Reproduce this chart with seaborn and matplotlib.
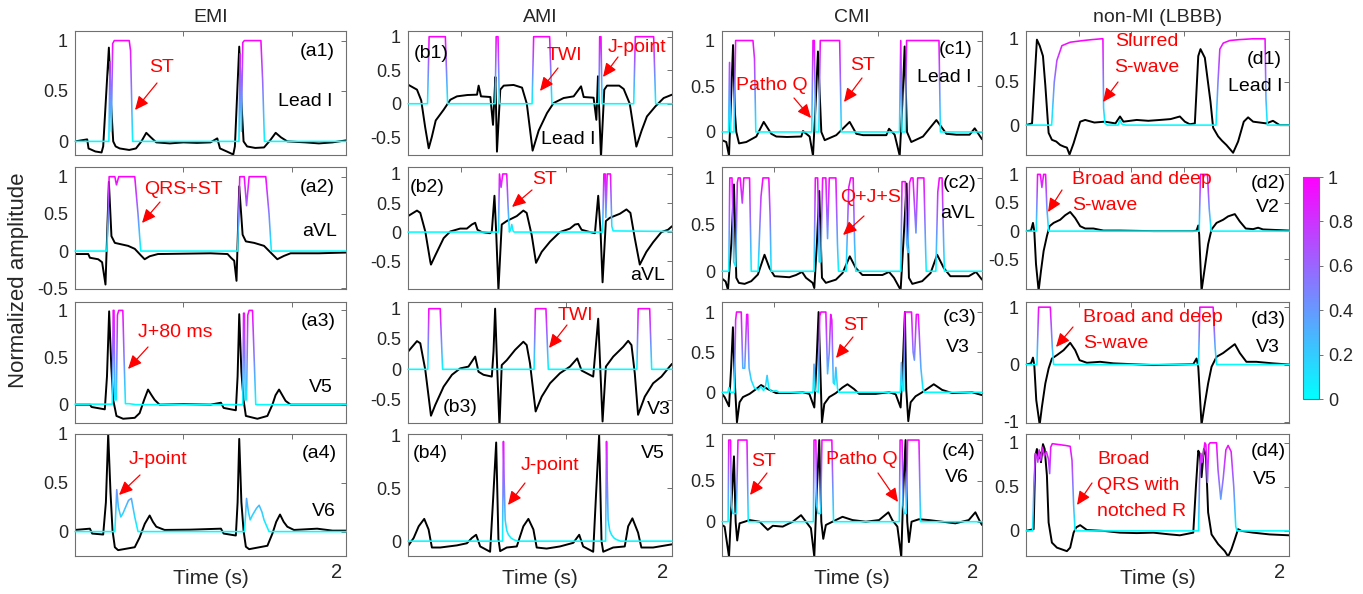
import numpy as np
import matplotlib
matplotlib.use("Agg")
import matplotlib.pyplot as plt
from matplotlib.patches import Rectangle, FancyArrowPatch
from matplotlib.cm import ScalarMappable
from matplotlib.colors import Normalize
import seaborn as sns

# ---------------- ECG traces (normalized amplitude) and attention maps ----------------
# time in seconds (0-2 s window)

# EMI
a1_ecg_t = [0.00, 0.09, 0.10, 0.15, 0.196, 0.208, 0.25, 0.265, 0.282, 0.30, 0.33, 0.40, 0.45, 0.49, 0.526, 0.56, 0.60, 0.70, 0.80, 0.90, 1.00, 1.05, 1.07, 1.12, 1.168, 1.18, 1.212, 1.228, 1.244, 1.27, 1.33, 1.395, 1.44, 1.481, 1.52, 1.567, 1.70, 1.80, 1.90, 2.00]
a1_ecg_v = [0.00, 0.02, -0.07, -0.10, -0.11, -0.05, 0.93, 0.40, 0.00, -0.05, -0.07, -0.085, -0.07, 0.00, 0.085, 0.04, -0.01, -0.02, -0.01, -0.015, -0.01, 0.03, -0.07, -0.10, -0.13, -0.05, 0.94, 0.40, 0.00, -0.05, -0.065, -0.06, 0.01, 0.085, 0.04, 0.00, -0.01, -0.02, -0.01, 0.01]
a1_att_t = [0.00, 0.235, 0.25, 0.258, 0.268, 0.278, 0.29, 0.40, 0.41, 0.425, 1.20, 1.21, 1.218, 1.228, 1.238, 1.25, 1.372, 1.385, 1.398, 2.00]
a1_att_v = [0, 0, 0, 0.79, 0.1, 0.97, 1.0, 1.0, 0.9, 0, 0, 0, 0.87, 0.1, 0.98, 1.0, 1.0, 0.6, 0, 0]

a2_ecg_t = [0.00, 0.098, 0.110, 0.171, 0.20, 0.225, 0.25, 0.269, 0.294, 0.343, 0.392, 0.441, 0.490, 0.514, 0.551, 0.612, 0.808, 1.00, 1.126, 1.151, 1.175, 1.192, 1.212, 1.237, 1.261, 1.322, 1.395, 1.444, 1.493, 1.542, 1.591, 1.80, 2.00]
a2_ecg_v = [-0.04, -0.04, -0.09, -0.11, -0.15, -0.45, 0.93, 0.20, 0.11, 0.09, 0.07, 0.03, -0.065, -0.11, -0.07, -0.04, -0.035, -0.03, -0.04, -0.09, -0.13, -0.40, 0.87, 0.22, 0.13, 0.11, 0.07, -0.02, -0.11, -0.065, -0.03, -0.03, -0.02]
a2_att_t = [0, 0.235, 0.245, 0.252, 0.294, 0.306, 0.323, 0.441, 0.465, 0.485, 1.200, 1.208, 1.216, 1.249, 1.266, 1.285, 1.408, 1.432, 1.449, 2.0]
a2_att_v = [0, 0, 0.5, 1, 1, 0.89, 1, 1, 0.5, 0, 0, 0.5, 1, 1, 0.61, 1, 1, 0.5, 0, 0]

a3_ecg_t = [0.00, 0.110, 0.122, 0.220, 0.236, 0.252, 0.268, 0.282, 0.306, 0.355, 0.441, 0.477, 0.510, 0.539, 0.565, 0.588, 0.624, 0.80, 1.00, 1.077, 1.097, 1.187, 1.200, 1.212, 1.228, 1.244, 1.261, 1.346, 1.420, 1.457, 1.480, 1.506, 1.530, 1.554, 1.591, 1.80, 2.00]
a3_ecg_v = [0.00, 0.00, -0.025, -0.05, 0.3, 0.99, 0.4, 0.05, -0.12, -0.15, -0.14, -0.09, 0.05, 0.16, 0.10, 0.05, 0.00, 0.005, 0.00, 0.02, -0.035, -0.06, 0.30, 0.96, 0.35, 0.05, -0.12, -0.15, -0.12, 0.00, 0.10, 0.16, 0.10, 0.04, 0.00, 0.00, 0.00]
a3_att_t = [0, 0.275, 0.282, 0.288, 0.294, 0.305, 0.313, 0.323, 0.353, 0.362, 0.372, 0.40, 0.45, 0.50, 1.238, 1.244, 1.250, 1.256, 1.266, 1.275, 1.285, 1.310, 1.322, 1.334, 2.0]
a3_att_v = [0.005, 0.005, 1.0, 1.0, 0.05, 0.05, 0.95, 1.0, 1.0, 0.5, 0.01, 0.01, 0.0, 0.0, 0.0, 0.97, 0.97, 0.05, 0.05, 0.95, 1.0, 1.0, 0.5, 0.0, 0.0]

a4_ecg_t = [0.00, 0.110, 0.127, 0.208, 0.228, 0.245, 0.262, 0.277, 0.294, 0.318, 0.441, 0.477, 0.515, 0.551, 0.575, 0.600, 0.661, 0.85, 1.077, 1.097, 1.187, 1.200, 1.212, 1.228, 1.244, 1.261, 1.285, 1.420, 1.457, 1.485, 1.513, 1.540, 1.567, 1.616, 1.787, 1.90, 2.00]
a4_ecg_v = [0.017, 0.03, -0.02, -0.03, 0.3, 1.0, 0.4, 0.01, -0.16, -0.19, -0.16, -0.06, 0.08, 0.165, 0.10, 0.05, 0.017, 0.02, 0.03, -0.02, -0.04, 0.3, 0.95, 0.3, 0.01, -0.155, -0.18, -0.145, -0.02, 0.10, 0.175, 0.10, 0.05, 0.017, 0.03, 0.01, 0.01]
a4_att_t = [0, 0.294, 0.301, 0.308, 0.32, 0.338, 0.355, 0.367, 0.395, 0.416, 0.441, 0.465, 1.25, 1.258, 1.266, 1.28, 1.293, 1.310, 1.340, 1.359, 1.380, 1.395, 1.432, 2.0]
a4_att_v = [0, 0, 0.2, 0.43, 0.25, 0.15, 0.19, 0.23, 0.32, 0.34, 0.15, 0.0, 0, 0.15, 0.34, 0.2, 0.12, 0.17, 0.24, 0.27, 0.2, 0.12, 0.0, 0]

# AMI
b1_ecg_t = [0.00, 0.068, 0.10, 0.13, 0.157, 0.18, 0.21, 0.27, 0.321, 0.371, 0.45, 0.523, 0.535, 0.553, 0.624, 0.644, 0.652, 0.662, 0.674, 0.699, 0.725, 0.80, 0.864, 0.90, 0.944, 0.99, 1.053, 1.103, 1.179, 1.255, 1.311, 1.331, 1.406, 1.427, 1.439, 1.462, 1.487, 1.508, 1.60, 1.634, 1.68, 1.730, 1.77, 1.810, 1.874, 1.937, 2.00]
b1_ecg_v = [0.285, 0.21, 0.05, -0.35, -0.665, -0.5, -0.25, -0.09, 0.06, 0.11, 0.13, 0.135, 0.27, 0.11, 0.10, -0.315, 0.0, 0.40, -0.715, 0.21, 0.27, 0.28, 0.24, 0.0, -0.70, -0.4, -0.14, 0.01, 0.085, 0.11, 0.26, 0.10, 0.09, -0.24, 0.41, -0.80, 0.21, 0.27, 0.27, 0.22, 0.0, -0.64, -0.4, -0.19, -0.04, 0.085, 0.135]
b1_att_t = [0, 0.148, 0.16, 0.283, 0.30, 0.66, 0.668, 0.682, 0.692, 0.94, 0.952, 1.073, 1.09, 1.446, 1.452, 1.462, 1.470, 1.71, 1.722, 1.861, 1.876, 2.0]
b1_att_v = [0, 0, 1, 1, 0, 0, 1, 1, 0, 0, 1, 1, 0, 0, 1, 1, 0, 0, 1, 1, 0, 0]

b2_ecg_t = [0.00, 0.068, 0.093, 0.131, 0.169, 0.174, 0.207, 0.270, 0.320, 0.395, 0.446, 0.484, 0.509, 0.526, 0.559, 0.622, 0.635, 0.655, 0.668, 0.685, 0.710, 0.748, 0.824, 0.874, 0.899, 0.937, 0.970, 1.013, 1.076, 1.151, 1.227, 1.265, 1.290, 1.315, 1.378, 1.416, 1.441, 1.459, 1.474, 1.499, 1.529, 1.605, 1.655, 1.685, 1.718, 1.756, 1.806, 1.857, 1.920, 1.970, 2.00]
b2_ecg_v = [0.275, 0.37, 0.33, 0.01, -0.51, -0.56, -0.40, -0.105, 0.01, 0.06, 0.06, 0.13, 0.16, 0.04, 0.0, -0.02, 0.01, 0.625, 0.0, -1.0, 0.13, 0.19, 0.275, 0.37, 0.33, -0.05, -0.53, -0.34, -0.165, 0.0, 0.06, 0.13, 0.14, 0.04, 0.0, -0.02, 0.625, 0.0, -0.865, 0.19, 0.245, 0.315, 0.39, 0.33, -0.105, -0.56, -0.34, -0.175, 0.0, 0.04, 0.10]
b2_att_t = [0, 0.685, 0.693, 0.705, 0.718, 0.748, 0.758, 0.768, 0.778, 0.786, 0.796, 0.804, 1.474, 1.484, 1.494, 1.499, 1.509, 1.534, 1.544, 1.554, 2.0]
b2_att_v = [0, 0, 1, 0.77, 1, 1, 0.45, 0.0, 0.05, 0.13, 0.02, 0, 0, 1, 1, 0.25, 1, 1, 0.1, 0.02, 0.01]

b3_ecg_t = [0.000, 0.068, 0.093, 0.131, 0.174, 0.207, 0.270, 0.333, 0.395, 0.458, 0.509, 0.534, 0.572, 0.635, 0.648, 0.660, 0.676, 0.693, 0.710, 0.748, 0.811, 0.874, 0.899, 0.924, 0.967, 1.013, 1.076, 1.151, 1.227, 1.282, 1.315, 1.403, 1.441, 1.457, 1.474, 1.499, 1.555, 1.630, 1.668, 1.693, 1.718, 1.743, 1.794, 1.857, 1.920, 1.982, 2.000]
b3_ecg_v = [0.29, 0.465, 0.43, -0.01, -0.765, -0.585, -0.285, -0.09, 0.015, 0.045, 0.21, -0.04, -0.09, -0.12, 0.3, 1.0, 0.0, -0.95, 0.07, 0.15, 0.32, 0.455, 0.40, 0.10, -0.695, -0.45, -0.23, -0.065, 0.045, 0.18, -0.02, -0.12, 0.835, 0.0, -0.86, 0.045, 0.21, 0.37, 0.47, 0.40, -0.065, -0.75, -0.45, -0.23, -0.12, 0.045, 0.09]
b3_att_t = [0, 0.150, 0.158, 0.244, 0.262, 0.955, 0.965, 1.045, 1.063, 1.734, 1.744, 1.831, 1.846, 2.0]
b3_att_v = [0, 0, 1, 1, 0, 0, 1, 1, 0, 0, 1, 1, 0, 0]

b4_ecg_t = [0.000, 0.043, 0.081, 0.123, 0.156, 0.181, 0.244, 0.370, 0.446, 0.484, 0.516, 0.547, 0.622, 0.645, 0.668, 0.685, 0.698, 0.748, 0.824, 0.874, 0.912, 0.950, 0.975, 1.050, 1.151, 1.252, 1.297, 1.327, 1.403, 1.425, 1.448, 1.466, 1.479, 1.554, 1.642, 1.668, 1.700, 1.743, 1.768, 1.857, 2.000]
b4_ecg_v = [-0.047, 0.03, 0.14, 0.21, 0.11, -0.06, -0.06, -0.04, -0.02, 0.03, 0.06, -0.05, -0.10, 0.4, 0.93, 0.02, -0.094, -0.06, -0.05, 0.14, 0.21, 0.11, -0.06, -0.07, -0.05, -0.016, 0.06, -0.05, -0.10, 0.45, 1.0, 0.0, -0.10, -0.06, -0.05, 0.14, 0.215, 0.08, -0.06, -0.06, -0.03]
b4_att_t = [0, 0.716, 0.723, 0.728, 0.736, 0.748, 0.761, 0.780, 0.799, 0.830, 1.497, 1.504, 1.509, 1.516, 1.528, 1.542, 1.560, 1.579, 1.610, 2.0]
b4_att_v = [0, 0, 0.94, 0.6, 0.2, 0.1, 0.06, 0.03, 0.015, 0, 0, 0.94, 0.6, 0.2, 0.1, 0.06, 0.03, 0.015, 0, 0]

# CMI
c1_ecg_t = [0.000, 0.033, 0.054, 0.068, 0.085, 0.100, 0.110, 0.131, 0.187, 0.264, 0.321, 0.379, 0.418, 0.50, 0.610, 0.623, 0.674, 0.700, 0.720, 0.738, 0.764, 0.790, 0.879, 0.982, 1.033, 1.085, 1.264, 1.285, 1.328, 1.367, 1.387, 1.405, 1.423, 1.456, 1.546, 1.649, 1.726, 1.803, 1.905, 1.944, 2.000]
c1_ecg_v = [-0.09, -0.11, -0.26, 0.3, 0.95, 0.2, 0.0, -0.125, -0.11, -0.05, 0.11, -0.02, -0.05, -0.055, -0.05, 0.01, -0.05, -0.26, 0.3, 0.88, 0.0, -0.09, -0.035, 0.11, -0.02, -0.035, -0.035, 0.035, -0.03, -0.26, 0.3, 0.935, 0.0, -0.11, -0.05, 0.13, -0.02, -0.03, -0.03, 0.04, -0.08]
c1_att_t = [0, 0.050, 0.058, 0.066, 0.092, 0.105, 0.238, 0.250, 0.260, 0.690, 0.700, 0.710, 0.720, 0.745, 0.756, 0.905, 0.918, 1.365, 1.375, 1.385, 1.410, 1.420, 1.669, 1.680, 2.0]
c1_att_v = [0, 0, 0.76, 0, 0, 1, 1, 0.8, 0, 0, 1, 1, 0, 0, 1, 1, 0, 0, 1, 0, 0, 1, 1, 0, 0]

c2_ecg_t = [0.000, 0.028, 0.046, 0.072, 0.092, 0.110, 0.130, 0.174, 0.225, 0.276, 0.327, 0.365, 0.404, 0.518, 0.570, 0.616, 0.646, 0.697, 0.710, 0.730, 0.748, 0.769, 0.799, 0.876, 0.927, 0.983, 1.029, 1.080, 1.234, 1.285, 1.323, 1.374, 1.395, 1.420, 1.438, 1.464, 1.540, 1.604, 1.655, 1.706, 1.757, 1.898, 1.954, 2.000]
c2_ecg_v = [-0.078, -0.11, -0.2, 0.3, 0.93, -0.07, -0.125, -0.135, -0.106, -0.035, 0.177, 0.035, -0.053, -0.064, -0.04, -0.007, -0.07, -0.124, -0.18, 0.3, 0.86, -0.07, -0.124, -0.09, -0.02, 0.16, 0.035, -0.04, -0.04, -0.007, -0.07, -0.2, 0.3, 0.94, -0.07, -0.135, -0.106, -0.02, 0.177, 0.035, -0.053, -0.053, -0.007, -0.09]
c2_att_t = [0, 0.052, 0.060, 0.077, 0.090, 0.105, 0.118, 0.125, 0.140, 0.156, 0.168, 0.212, 0.225, 0.278, 0.300, 0.315, 0.360, 0.370, 0.378, 0.708, 0.718, 0.736, 0.748, 0.760, 0.774, 0.799, 0.812, 0.825, 0.876, 0.888, 0.896, 0.955, 0.975, 0.990, 1.009, 1.020, 1.029, 1.375, 1.385, 1.410, 1.420, 1.430, 1.443, 1.455, 1.469, 1.492, 1.505, 1.553, 1.565, 1.571, 1.645, 1.660, 1.672, 1.693, 1.705, 1.711, 2.0]
c2_att_v = [0, 0, 1, 1, 0.1, 0.05, 0.95, 1, 1, 0.73, 1, 1, 0, 0, 0.8, 1, 1, 0.6, 0, 0, 1, 1, 0.1, 0.1, 1, 1, 0.35, 1, 1, 0.3, 0, 0, 0.9, 1, 1, 0.3, 0, 0, 0.96, 0.96, 0.3, 0.2, 0.95, 1, 1, 0.41, 1, 1, 0.3, 0, 0, 0.85, 1, 1, 0.3, 0, 0]

c3_ecg_t = [0.000, 0.020, 0.054, 0.070, 0.084, 0.100, 0.115, 0.135, 0.161, 0.212, 0.263, 0.301, 0.352, 0.416, 0.518, 0.621, 0.672, 0.710, 0.728, 0.743, 0.761, 0.769, 0.787, 0.825, 0.876, 0.927, 0.965, 1.016, 1.055, 1.182, 1.285, 1.336, 1.374, 1.392, 1.407, 1.417, 1.433, 1.451, 1.489, 1.540, 1.629, 1.693, 1.770, 1.923, 2.000]
c3_ecg_v = [-0.02, -0.06, -0.175, 0.3, 0.81, 0.08, -0.375, -0.125, -0.06, -0.02, 0.04, 0.09, 0.04, -0.01, -0.01, 0.0, -0.02, -0.19, 0.4, 1.0, 0.04, -0.375, -0.145, -0.06, -0.01, 0.06, 0.10, 0.04, -0.02, -0.02, 0.0, -0.025, -0.19, 0.4, 1.0, 0.04, -0.36, -0.125, -0.05, 0.0, 0.10, 0.03, -0.01, 0.0, -0.035]
c3_att_t = [0, 0.045, 0.054, 0.064, 0.095, 0.105, 0.112, 0.148, 0.160, 0.175, 0.190, 0.198, 0.208, 0.225, 0.250, 0.280, 0.300, 0.320, 0.335, 0.347, 0.360, 0.380, 0.416, 0.440, 0.700, 0.708, 0.716, 0.740, 0.752, 0.761, 0.799, 0.812, 0.825, 0.836, 0.845, 0.856, 0.866, 0.876, 0.888, 0.900, 1.372, 1.380, 1.388, 1.398, 1.407, 1.458, 1.470, 1.480, 1.495, 1.510, 1.530, 1.545, 1.555, 2.0]
c3_att_v = [0, 0, 0.06, 0, 0, 0.9, 1, 1, 0.3, 0.3, 0.97, 0.97, 0.3, 0.15, 0.05, 0.03, 0.07, 0.02, 0.08, 0.21, 0.05, 0.01, 0.02, 0, 0, 0.35, 0.02, 0, 0.95, 1, 1, 0.23, 0.5, 0.97, 0.9, 0.12, 0.1, 0.31, 0.05, 0, 0, 0.37, 0.02, 0.02, 1, 1, 0.5, 0.4, 0.97, 0.97, 0.3, 0.05, 0, 0]

c4_ecg_t = [0.000, 0.020, 0.054, 0.072, 0.092, 0.105, 0.117, 0.135, 0.174, 0.212, 0.289, 0.352, 0.391, 0.467, 0.544, 0.608, 0.646, 0.684, 0.710, 0.730, 0.748, 0.764, 0.779, 0.799, 0.850, 0.927, 1.004, 1.106, 1.208, 1.280, 1.310, 1.349, 1.379, 1.395, 1.412, 1.425, 1.438, 1.458, 1.515, 1.591, 1.693, 1.795, 1.898, 1.949, 1.979, 2.000]
c4_ecg_v = [-0.04, -0.06, -0.43, 0.2, 0.80, 0.0, -0.23, -0.02, 0.0, 0.02, 0.0, -0.10, -0.05, -0.06, 0.0, 0.08, 0.0, -0.08, -0.43, 0.4, 1.0, 0.0, -0.21, -0.04, 0.0, 0.06, 0.02, 0.0, 0.02, 0.115, 0.02, -0.06, -0.43, 0.4, 1.0, 0.0, -0.25, 0.0, 0.03, 0.02, 0.0, -0.02, 0.02, 0.115, 0.02, -0.04]
c4_att_t = [0, 0.047, 0.052, 0.066, 0.072, 0.084, 0.110, 0.123, 0.192, 0.202, 0.703, 0.708, 0.722, 0.728, 0.738, 0.759, 0.769, 0.845, 0.858, 1.364, 1.370, 1.385, 1.392, 1.402, 1.417, 1.428, 1.515, 1.527, 2.0]
c4_att_v = [0, 0, 1, 1, 0.2, 0.1, 0.1, 1, 1, 0, 0, 1, 1, 0.2, 0.1, 0.1, 1, 1, 0, 0, 1, 1, 0.2, 0.1, 0.1, 1, 1, 0, 0]

# non-MI (LBBB)
d1_ecg_t = [0.000, 0.046, 0.083, 0.104, 0.129, 0.147, 0.172, 0.197, 0.230, 0.260, 0.290, 0.311, 0.331, 0.362, 0.412, 0.450, 0.520, 0.600, 0.680, 0.715, 0.741, 0.842, 0.930, 1.019, 1.100, 1.170, 1.208, 1.246, 1.284, 1.310, 1.327, 1.360, 1.403, 1.423, 1.461, 1.490, 1.524, 1.575, 1.613, 1.656, 1.689, 1.727, 1.828, 1.878, 1.929, 2.000]
d1_ecg_v = [0.0, 0.02, 0.99, 0.92, 0.80, 0.46, -0.09, -0.17, -0.19, -0.23, -0.25, -0.26, -0.34, -0.21, 0.04, 0.06, 0.03, 0.04, 0.02, 0.10, 0.04, 0.06, 0.05, 0.06, 0.07, 0.10, 0.04, 0.01, 0.02, 0.80, 0.88, 0.78, 0.27, -0.03, -0.13, -0.18, -0.23, -0.32, -0.19, 0.04, 0.09, 0.04, 0.02, 0.05, 0.0, 0.0]
d1_att_t = [0, 0.195, 0.215, 0.235, 0.273, 0.336, 0.437, 0.500, 0.576, 0.585, 0.590, 0.600, 0.620, 0.700, 0.713, 0.730, 0.760, 1.445, 1.460, 1.474, 1.500, 1.550, 1.620, 1.727, 1.818, 1.825, 1.835, 2.0]
d1_att_v = [0, 0, 0.5, 0.75, 0.92, 0.96, 0.98, 0.99, 1.0, 1.0, 0.2, 0.02, 0, 0, 0.06, 0.01, 0, 0, 0.5, 0.88, 0.95, 0.98, 0.99, 1.0, 1.0, 0.3, 0, 0]

d2_ecg_t = [0.000, 0.038, 0.053, 0.063, 0.076, 0.096, 0.114, 0.134, 0.159, 0.179, 0.210, 0.260, 0.298, 0.336, 0.374, 0.412, 0.450, 0.513, 0.589, 0.715, 0.968, 1.145, 1.272, 1.297, 1.310, 1.317, 1.335, 1.360, 1.385, 1.411, 1.449, 1.499, 1.537, 1.588, 1.626, 1.671, 1.727, 1.765, 1.802, 2.000]
d2_ecg_v = [0.0, 0.01, 0.145, 0.0, -0.58, -1.05, -0.70, -0.35, -0.087, 0.087, 0.145, 0.2, 0.28, 0.337, 0.23, 0.087, 0.046, 0.046, 0.01, 0.01, 0.0, 0.0, 0.0, 0.01, 0.1, -0.06, -1.05, -0.64, -0.23, 0.03, 0.145, 0.2, 0.26, 0.3, 0.17, 0.046, 0.035, 0.06, 0.03, 0.01]
d2_att_t = [0, 0.078, 0.088, 0.109, 0.121, 0.134, 0.149, 0.159, 0.172, 1.317, 1.327, 1.380, 1.393, 1.408, 2.0]
d2_att_v = [0, 0, 1, 1, 0.77, 1, 1, 0.4, 0, 0, 1, 1, 0.4, 0, 0]

d3_ecg_t = [0.000, 0.038, 0.053, 0.063, 0.078, 0.104, 0.121, 0.147, 0.172, 0.197, 0.235, 0.286, 0.336, 0.374, 0.407, 0.463, 0.564, 0.665, 0.968, 1.272, 1.297, 1.310, 1.335, 1.360, 1.385, 1.411, 1.449, 1.499, 1.588, 1.626, 1.676, 1.752, 1.878, 2.000]
d3_ecg_v = [0.0, 0.02, 0.12, -0.01, -0.62, -1.05, -0.74, -0.33, -0.07, 0.105, 0.163, 0.25, 0.378, 0.25, 0.076, 0.03, 0.047, 0.02, -0.01, 0.005, 0.105, -0.04, -1.05, -0.68, -0.33, -0.04, 0.134, 0.20, 0.355, 0.20, 0.047, 0.047, 0.02, 0.0]
d3_att_t = [0, 0.083, 0.096, 0.185, 0.200, 0.210, 1.312, 1.322, 1.423, 1.438, 1.449, 2.0]
d3_att_v = [0, 0, 1, 1, 0.3, 0, 0, 1, 1, 0.3, 0, 0]

d4_ecg_t = [0.000, 0.058, 0.071, 0.083, 0.096, 0.109, 0.114, 0.129, 0.142, 0.159, 0.172, 0.197, 0.235, 0.273, 0.311, 0.336, 0.362, 0.382, 0.412, 0.463, 0.589, 0.715, 0.842, 0.968, 1.095, 1.170, 1.272, 1.292, 1.310, 1.322, 1.335, 1.353, 1.368, 1.385, 1.411, 1.461, 1.512, 1.537, 1.562, 1.588, 1.613, 1.638, 1.727, 1.853, 2.000]
d4_ecg_v = [0.0, 0.02, 0.855, 0.93, 0.82, 0.89, 0.78, 0.985, 0.93, 0.63, 0.095, -0.133, -0.19, -0.21, -0.23, -0.19, -0.02, 0.04, 0.065, 0.01, 0.0, -0.02, -0.025, -0.02, -0.04, -0.05, -0.02, 0.5, 0.91, 0.87, 0.61, 0.93, 0.86, 0.21, -0.04, -0.15, -0.23, -0.29, -0.21, -0.095, 0.02, 0.0, -0.02, -0.04, -0.05]
d4_att_t = [0, 0.050, 0.060, 0.071, 0.080, 0.090, 0.100, 0.112, 0.125, 0.140, 0.155, 0.170, 0.180, 0.188, 0.200, 0.250, 0.300, 0.336, 0.350, 0.362, 0.372, 0.380, 1.312, 1.320, 1.330, 1.340, 1.347, 1.360, 1.368, 1.380, 1.390, 1.400, 1.449, 1.460, 1.481, 1.500, 1.520, 1.537, 1.560, 1.580, 1.595, 1.605, 2.0]
d4_att_v = [0, 0, 0.5, 0.88, 0.85, 0.78, 0.92, 0.8, 0.95, 0.85, 0.9, 0.82, 0.65, 0.95, 0.99, 0.98, 0.97, 0.96, 0.8, 0.3, 0.02, 0, 0, 0.6, 0.88, 0.78, 0.85, 1.0, 0.98, 0.55, 0.98, 1.0, 1.0, 0.7, 0.36, 0.6, 0.92, 0.97, 0.9, 0.5, 0.05, 0, 0]

group_titles = ["EMI", "AMI", "CMI", "non-MI (LBBB)"]
cbar_ticks = [0, 0.2, 0.4, 0.6, 0.8, 1]

# ---------------- layout (figure pixels, origin top-left) ----------------
W, H = 1363, 594
col_px = {"a": (75, 346), "b": (408, 672), "c": (722, 982), "d": (1026, 1289)}
row_px = [(31, 155), (167, 289), (302, 423), (434, 556)]
col_xticks = {"a": [0.8, 1.6], "b": [0.4, 1.2], "c": [0.4, 1.2], "d": [0.4, 0.8, 1.2, 1.6]}

panel_cfg = {
    "a1": dict(ylim=(-0.135, 1.095), yt=[0, 0.5, 1]),
    "a2": dict(ylim=(-0.51, 1.13), yt=[-0.5, 0, 0.5, 1]),
    "a3": dict(ylim=(-0.195, 1.089), yt=[0, 0.5, 1]),
    "a4": dict(ylim=(-0.25, 1.0), yt=[0, 0.5, 1]),
    "b1": dict(ylim=(-0.765, 1.085), yt=[-0.5, 0, 0.5, 1]),
    "b2": dict(ylim=(-0.98, 1.12), yt=[-0.5, 0, 0.5, 1]),
    "b3": dict(ylim=(-0.885, 1.11), yt=[-0.5, 0, 0.5, 1]),
    "b4": dict(ylim=(-0.14, 1.01), yt=[0, 0.5, 1]),
    "c1": dict(ylim=(-0.252, 1.104), yt=[0, 0.5, 1]),
    "c2": dict(ylim=(-0.19, 1.117), yt=[0, 0.5, 1]),
    "c3": dict(ylim=(-0.383, 1.125), yt=[0, 0.5, 1]),
    "c4": dict(ylim=(-0.42, 1.074), yt=[0, 0.5, 1]),
    "d1": dict(ylim=(-0.346, 1.09), yt=[0, 0.5, 1]),
    "d2": dict(ylim=(-1.02, 1.13), yt=[-0.5, 0, 0.5, 1]),
    "d3": dict(ylim=(-1.02, 1.09), yt=[-1, 0, 1]),
    "d4": dict(ylim=(-0.285, 1.10), yt=[0, 0.5, 1]),
}

# panel tags and lead names: (text, x, y, ha)
panel_text = {
    "a1": [("(a1)", 335, 52, "right"), ("Lead I", 333, 102, "right")],
    "a2": [("(a2)", 335, 188, "right"), ("aVL", 337, 232, "right")],
    "a3": [("(a3)", 336, 322, "right"), ("V5", 333, 387, "right")],
    "a4": [("(a4)", 337, 453, "right"), ("V6", 336, 512, "right")],
    "b1": [("(b1)", 414, 53, "left"), ("Lead I", 568, 140, "center")],
    "b2": [("(b2)", 410, 188, "left"), ("aVL", 665, 275, "right")],
    "b3": [("(b3)", 460, 408, "center"), ("V3", 671, 410, "right")],
    "b4": [("(b4)", 413, 453, "left"), ("V5", 665, 453, "right")],
    "c1": [("(c1)", 973, 49, "right"), ("Lead I", 972, 78, "right")],
    "c2": [("(c2)", 976, 183, "right"), ("aVL", 975, 214, "right")],
    "c3": [("(c3)", 976, 318, "right"), ("V3", 970, 347, "right")],
    "c4": [("(c4)", 976, 452, "right"), ("V6", 969, 478, "right")],
    "d1": [("(d1)", 1282, 60, "right"), ("Lead I", 1283, 87, "right")],
    "d2": [("(d2)", 1286, 183, "right"), ("V2", 1280, 208, "right")],
    "d3": [("(d3)", 1286, 320, "right"), ("V3", 1280, 348, "right")],
    "d4": [("(d4)", 1286, 452, "right"), ("V5", 1277, 479, "right")],
}

# red callouts: (lines, text x, first line y, ha, arrow tail, arrow tip)
callouts = [
    (["ST"], 162, 68, "center", (157, 83), (135, 110)),
    (["QRS+ST"], 183, 190, "center", (160, 202), (142, 223)),
    (["J+80 ms"], 175, 333, "center", (148, 347), (128, 369)),
    (["J-point"], 158, 460, "center", (140, 475), (119, 495)),
    (["TWI"], 564, 55, "center", (558, 68), (540, 91)),
    (["J-point"], 637, 47, "center", (618, 57), (603, 77)),
    (["ST"], 545, 180, "center", (532, 190), (512, 207)),
    (["TWI"], 575, 315, "center", (567, 325), (549, 348)),
    (["J-point"], 550, 466, "center", (525, 483), (508, 505)),
    (["Patho Q"], 772, 85, "center", (794, 98), (811, 118)),
    (["ST"], 863, 66, "center", (862, 78), (844, 102)),
    (["Q+J+S"], 871, 197, "center", (864, 216), (843, 235)),
    (["ST"], 856, 325, "center", (853, 337), (836, 358)),
    (["ST"], 764, 461, "center", (767, 473), (750, 495)),
    (["Patho Q"], 862, 460, "center", (878, 473), (898, 502)),
    (["Slurred", "S-wave"], 1147, 42, "center", (1118, 82), (1103, 102)),
    (["Broad and deep", "S-wave"], 1072, 180, "left", (1062, 190), (1048, 212)),
    (["Broad and deep", "S-wave"], 1083, 317, "left", (1073, 327), (1056, 347)),
    (["Broad", "QRS with", "notched R"], 1097, 460, "left", (1092, 483), (1077, 505)),
]

# ---------------- drawing ----------------
sns.set_style("white")
plt.rcParams["font.family"] = ["Liberation Sans", "DejaVu Sans"]

TXT = "#262626"
FRAME = "#707070"
cmap = plt.get_cmap("cool")

fig = plt.figure(figsize=(W / 100, H / 100), dpi=100)


def fx(x):
    return x / W


def fy(y):
    return 1 - y / H


def draw_attention(ax, t, a, ylim, nbands=48):
    """Attention curve coloured by its own value (cool colormap)."""
    edges = np.linspace(0, 1, nbands + 1)
    for k in range(nbands):
        lo = edges[k] if k > 0 else ylim[0] - 1
        hi = edges[k + 1] if k < nbands - 1 else ylim[1] + 1
        (ln,) = ax.plot(t, a, color=cmap((k + 0.5) / nbands), lw=1.15,
                        solid_joinstyle="round", zorder=3)
        ln.set_clip_path(Rectangle((-1, lo), 4, hi - lo, transform=ax.transData))


data = globals()
for ci, col in enumerate("abcd"):
    x0, x1 = col_px[col]
    for ri in range(4):
        key = f"{col}{ri + 1}"
        top, bot = row_px[ri]
        ax = fig.add_axes([fx(x0), fy(bot), fx(x1) - fx(x0), (bot - top) / H])
        cfg = panel_cfg[key]
        et, ev = data[f"{key}_ecg_t"], data[f"{key}_ecg_v"]
        at, av = data[f"{key}_att_t"], data[f"{key}_att_v"]
        assert len(et) == len(ev) and len(at) == len(av), key
        sns.lineplot(x=et, y=ev, ax=ax, color="black", lw=1.4, sort=False,
                     estimator=None, zorder=2)
        draw_attention(ax, at, av, cfg["ylim"])
        ax.set_xlim(0, 2)
        ax.set_ylim(*cfg["ylim"])
        ax.set_xticks(col_xticks[col])
        ax.set_xticklabels([])
        ax.set_yticks(cfg["yt"])
        ax.set_yticklabels([f"{v:g}" for v in cfg["yt"]])
        ax.tick_params(direction="in", top=True, right=True, length=3.5,
                       width=0.7, color=FRAME, labelsize=13, labelcolor=TXT, pad=5)
        for sp in ax.spines.values():
            sp.set_color(FRAME)
            sp.set_linewidth(0.8)
        ax.set_xlabel("")
        ax.set_ylabel("")
        if ri == 0:
            fig.text(fx((x0 + x1) / 2), fy(17), group_titles[ci], ha="center",
                     va="center", fontsize=14, color=TXT)
        if ri == 3:
            fig.text(fx((x0 + x1) / 2), fy(578), "Time (s)", ha="center",
                     va="center", fontsize=15, color=TXT)
            fig.text(fx(x1 - 9), fy(572), "2", ha="center", va="center",
                     fontsize=14.5, color=TXT)
        for txt, x, y, ha in panel_text[key]:
            fig.text(fx(x), fy(y), txt, ha=ha, va="center", fontsize=14, color="black")

for lines, x, y, ha, tail, tip in callouts:
    for i, line in enumerate(lines):
        fig.text(fx(x), fy(y + 26 * i), line, ha=ha, va="center", fontsize=14,
                 color="#ff0000", zorder=10)
    fig.add_artist(FancyArrowPatch((fx(tail[0]), fy(tail[1])), (fx(tip[0]), fy(tip[1])),
                                   transform=fig.transFigure,
                                   arrowstyle="-|>,head_length=0.55,head_width=0.25",
                                   mutation_scale=15, color="#ff0000", lw=0.9,
                                   shrinkA=0, shrinkB=0, zorder=10))

fig.text(fx(19), fy(280), "Normalized amplitude", rotation=90, ha="center",
         va="center", fontsize=16, color=TXT)

cax = fig.add_axes([fx(1303), fy(399), 16 / W, (399 - 177) / H])
cb = fig.colorbar(ScalarMappable(norm=Normalize(0, 1), cmap=cmap), cax=cax)
cb.set_ticks(cbar_ticks)
cb.set_ticklabels([f"{v:g}" for v in cbar_ticks])
cb.outline.set_edgecolor(FRAME)
cb.outline.set_linewidth(0.8)
cax.tick_params(labelsize=13, labelcolor=TXT, color=FRAME, length=3, width=0.7)

fig.savefig("out.png", dpi=100)
